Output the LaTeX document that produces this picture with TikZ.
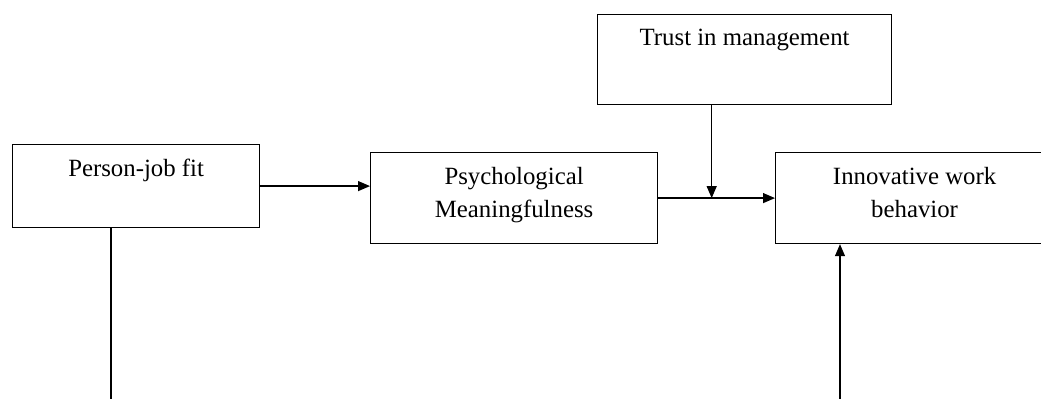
\documentclass[tikz,border=0pt]{standalone}
\usepackage{fontspec}
\setmainfont{Liberation Serif}
\usetikzlibrary{arrows.meta,calc,positioning}

\begin{document}
\begin{tikzpicture}[
  x=0.5pt,y=-0.5pt,
  factor/.style={draw,line width=0.6pt,anchor=north west,inner sep=0pt},
  lbl/.style={anchor=north,yshift=-7.5pt,align=center,inner sep=0pt,
    font=\fontsize{12.4pt}{16.5pt}\selectfont},
  arr/.style={-{Triangle[length=6pt,width=5pt]},line width=0.6pt}
]
  \useasboundingbox (0,0) rectangle (1041,399);

  \node[factor,minimum width=123.5pt,minimum height=41.5pt,
    label={[lbl]north:Person-job fit}] (pjf) at (12,144) {};
  \node[factor,minimum width=143.5pt,minimum height=45.5pt,
    label={[lbl]north:Psychological\\Meaningfulness}] (psy) at (370,152) {};
  \node[factor,minimum width=147pt,minimum height=45pt,
    label={[lbl]north:Trust in management}] (trust) at (597,14) {};
  \node[factor,minimum width=139pt,minimum height=45.5pt,
    label={[lbl]north:Innovative work\\behavior}] (iwb) at (775,152) {};

  % moderator meets the path here
  \coordinate (mod) at ($(psy.east)!0.458!(iwb.west)$);
  \coordinate (pjfend) at (111,410);
  \coordinate (iwbstart) at (840,410);

  \draw[arr] (pjf.east) -- (pjf.east -| psy.west);
  \draw[arr] (psy.east) -- (iwb.west);
  \draw[arr] (trust.south -| mod) -- (mod);
  \draw[line width=0.6pt] (pjfend |- pjf.south) -- (pjfend);
  \draw[arr] (iwbstart) -- (iwbstart |- iwb.south);
\end{tikzpicture}
\end{document}
